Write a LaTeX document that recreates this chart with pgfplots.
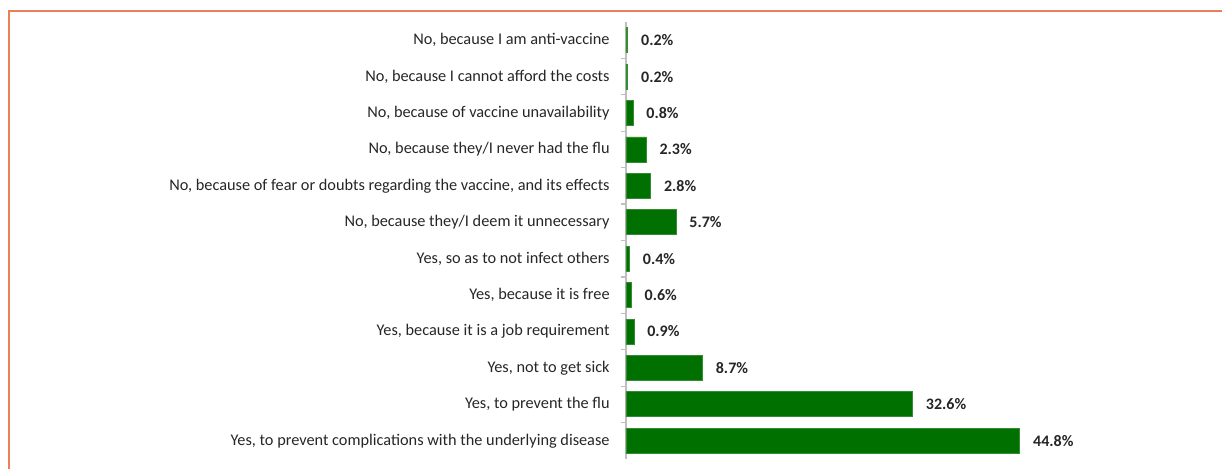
\documentclass[border=0pt]{standalone}
\usepackage{pgfplots}
\pgfplotsset{compat=1.18}
\usepackage{fontspec}
\setmainfont{Carlito}
\definecolor{barg}{RGB}{0,112,0}
\definecolor{frameo}{RGB}{235,128,88}
\begin{document}
\begin{tikzpicture}
\useasboundingbox (0,0) rectangle (611pt,234.5pt);
\draw[frameo, line width=1pt] (4.5pt,0) -- (4.5pt,229pt) -- (611pt,229pt);
\begin{axis}[
  at={(313pt,5pt)}, anchor=south west,
  scale only axis,
  width=294pt, height=218.5pt,
  xmin=0, xmax=66.9,
  ymin=-0.5, ymax=11.5,
  axis x line=none,
  axis y line=left,
  y axis line style={-, draw=black!25, line width=0.6pt},
  ytick={0,...,11},
  yticklabels={
    {Yes, to prevent complications with the underlying disease},
    {Yes, to prevent the flu},
    {Yes, not to get sick},
    {Yes, because it is a job requirement},
    {Yes, because it is free},
    {Yes, so as to not infect others},
    {No, because they/I deem it unnecessary},
    {No, because of fear or doubts regarding the vaccine, and its effects},
    {No, because they/I never had the flu},
    {No, because of vaccine unavailability},
    {No, because I cannot afford the costs},
    {No, because I am anti-vaccine}},
  major tick length=0pt,
  minor ytick={0.5,1.5,...,10.5},
  minor tick length=2.5pt,
  tick align=outside,
  minor y tick style={draw=black!25, line width=0.6pt},
  /pgf/number format/assume math mode=true,
  yticklabel style={font=\fontsize{8.15pt}{9.5pt}\selectfont, color=black!85, inner sep=0pt, xshift=-8pt},
  xbar, bar width=12.5pt, bar shift=0pt,
  nodes near coords={\pgfmathprintnumber[fixed,fixed zerofill,precision=1,assume math mode=true]{\pgfplotspointmeta}\%},
  every node near coord/.append style={font=\bfseries\fontsize{8pt}{9.5pt}\selectfont, color=black!85, anchor=west, inner sep=0pt, xshift=6.5pt},
  clip=false,
]
\addplot[fill=barg, draw=barg!80!white, line width=0.4pt] coordinates {
  (44.8,0) (32.6,1) (8.7,2) (0.9,3) (0.6,4) (0.4,5)
  (5.7,6) (2.8,7) (2.3,8) (0.8,9) (0.2,10) (0.2,11)
};
\end{axis}
\end{tikzpicture}
\end{document}
